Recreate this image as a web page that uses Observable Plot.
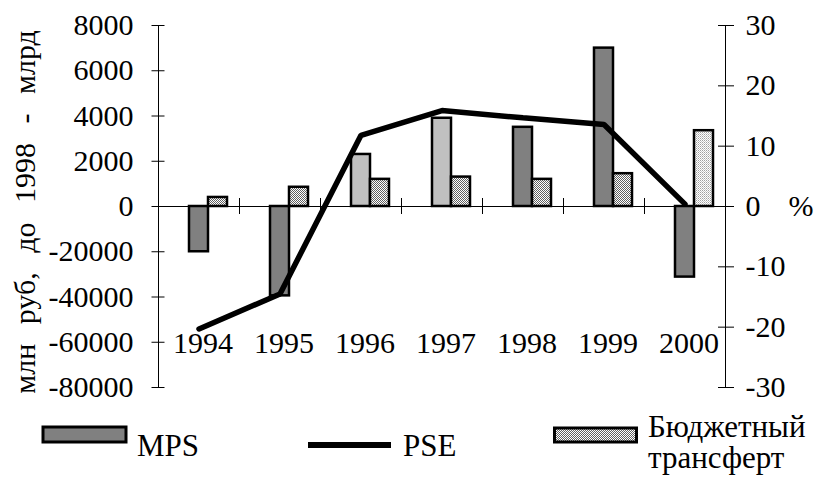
<!DOCTYPE html>
<html>
<head>
<meta charset="utf-8">
<script src="https://cdn.jsdelivr.net/npm/d3@7"></script>
<script src="https://cdn.jsdelivr.net/npm/@observablehq/plot@0.6"></script>
<style>
  html, body { margin: 0; padding: 0; background: #fff; }
  #chart { position: relative; width: 815px; height: 477px; overflow: hidden; }
  #chart svg { display: block; }
  #chart svg text { font-family: "Liberation Serif", "DejaVu Serif", "Times New Roman", Times, serif; }
</style>
</head>
<body>
<div id="chart"></div>
<script>
// ---- data ----
const years = ["1994", "1995", "1996", "1997", "1998", "1999", "2000"];
const mps = [-20000, -39500, 2300, 3900, 3500, 7000, -31200];      // left axis units
const transfer = [400, 850, 1200, 1300, 1200, 1450, 3350];          // left axis units
const pse = [-20.3, -14.5, 11.8, 15.9, 14.7, 13.6, 0.4];            // %, right axis
const leftTicks = [-80000, -60000, -40000, -20000, 0, 2000, 4000, 6000, 8000];
const rightTicks = [-30, -20, -10, 0, 10, 20, 30];
const yTitle = "млн руб, до 1998 - млрд";
const legendLabels = ["MPS", "PSE", "Бюджетный", "трансферт"];
const lightYears = ["1996", "1997"];
const lightTransferYears = ["2000"];

// ---- scale helpers ----
const toY = v => (v < 0 ? v / 10 : v);       // left axis: negative side is compressed 10x
const K = 8000 / 30;                          // percent -> left units

const W = 815, H = 405, ML = 158, MR = 90, MT = 25, MB = 18;
const bw = (W - ML - MR) / years.length;

const table = years.map((year, i) => ({year, mps: mps[i], transfer: transfer[i], pse: pse[i]}));

const font = "Liberation Serif, DejaVu Serif, Times New Roman, Times, serif";

const svg = Plot.plot({
  width: W,
  height: H,
  marginLeft: ML,
  marginRight: MR,
  marginTop: MT,
  marginBottom: MB,
  style: {fontFamily: font, fontSize: "30px", color: "black", background: "white"},
  x: {type: "band", domain: years, padding: 0, axis: null},
  y: {domain: [-8000, 8000], axis: null},
  color: {type: "identity"},
  marks: [
    Plot.barY(table, {
      x: "year", y1: 0, y2: d => toY(d.mps),
      fill: d => lightYears.includes(d.year) ? "#c0c0c0" : "#808080",
      stroke: "black", strokeWidth: 2.5,
      insetLeft: 31, insetRight: 31
    }),
    Plot.barY(table, {
      x: "year", y1: 0, y2: d => toY(d.transfer),
      fill: d => lightTransferYears.includes(d.year) ? "url(#patLight)" : "url(#patDark)",
      stroke: "black", strokeWidth: 2.5,
      insetLeft: 50, insetRight: 12
    }),
    Plot.ruleY([0], {stroke: "black", strokeWidth: 1}),
    Plot.ruleX(years.slice(1), {x: d => d, y1: 0, y2: 0, insetTop: -8, insetBottom: -8, dx: -bw / 2, stroke: "black", strokeWidth: 1}),
    Plot.frame({anchor: "left", stroke: "black", strokeWidth: 1}),
    Plot.frame({anchor: "right", stroke: "black", strokeWidth: 1}),
    Plot.axisY(leftTicks.map(toY), {
      anchor: "left", tickSize: 13, insetLeft: 6.5, tickPadding: 18.5,
      tickFormat: y => String(y < 0 ? Math.round(y * 10) : Math.round(y)),
      fontSize: 30, stroke: "black", fill: "black"
    }),
    Plot.axisY(rightTicks.map(p => p * K), {
      anchor: "right", tickSize: 16, insetRight: 8, tickPadding: 12,
      tickFormat: y => String(Math.round(y / K)),
      fontSize: 30, stroke: "black", fill: "black"
    }),
    Plot.text(["%"], {y: [0], text: d => d, frameAnchor: "right", textAnchor: "start", dx: 63, fontSize: 30, fill: "black"}),
    Plot.line(table, {x: "year", y: d => d.pse * K, stroke: "black", strokeWidth: 5.5, strokeLinejoin: "miter"}),
    Plot.text(years, {x: d => d, text: d => d, frameAnchor: "bottom", dy: -35, dx: 4, fontSize: 30, fill: "black"}),
    Plot.text([yTitle], {text: d => d, frameAnchor: "left", textAnchor: "middle", rotate: -90, dx: -133, dy: 5.5, fontSize: 30, fill: "black"})
  ]
});

// patterns for the dotted bars
const defs = d3.select(svg).insert("defs", ":first-child");
const p1 = defs.append("pattern").attr("id", "patDark").attr("width", 2).attr("height", 2).attr("patternUnits", "userSpaceOnUse");
p1.append("rect").attr("width", 2).attr("height", 2).attr("fill", "#ffffff");
p1.append("rect").attr("x", 0).attr("y", 0).attr("width", 1).attr("height", 1).attr("fill", "#606060");
p1.append("rect").attr("x", 1).attr("y", 1).attr("width", 1).attr("height", 1).attr("fill", "#606060");
const p2 = defs.append("pattern").attr("id", "patLight").attr("width", 2).attr("height", 2).attr("patternUnits", "userSpaceOnUse");
p2.append("rect").attr("width", 2).attr("height", 2).attr("fill", "#ffffff");
p2.append("rect").attr("x", 0).attr("y", 0).attr("width", 1).attr("height", 1).attr("fill", "#a0a0a0");
p2.append("rect").attr("x", 1).attr("y", 1).attr("width", 1).attr("height", 1).attr("fill", "#c8c8c8");

d3.select(svg).selectAll("text").filter(function() { return this.textContent === yTitle; })
  .style("word-spacing", "12px");

document.getElementById("chart").appendChild(svg);

// ---- legend (below the plot) ----
const leg = d3.select("#chart").append("svg")
  .attr("width", W).attr("height", 477 - H)
  .style("font-size", "31px");
const ldefs = leg.append("defs");
const lp = ldefs.append("pattern").attr("id", "legPat").attr("width", 2).attr("height", 2).attr("patternUnits", "userSpaceOnUse");
lp.append("rect").attr("width", 2).attr("height", 2).attr("fill", "#ffffff");
lp.append("rect").attr("width", 1).attr("height", 1).attr("fill", "#606060");
lp.append("rect").attr("x", 1).attr("y", 1).attr("width", 1).attr("height", 1).attr("fill", "#606060");

const oy = H;
leg.append("rect").attr("x", 43).attr("y", 427 - oy).attr("width", 83).attr("height", 15)
  .attr("fill", "#808080").attr("stroke", "black").attr("stroke-width", 3);
leg.append("text").attr("x", 137).attr("y", 455.5 - oy).text(legendLabels[0]);
leg.append("line").attr("x1", 308).attr("x2", 391).attr("y1", 445 - oy).attr("y2", 445 - oy)
  .attr("stroke", "black").attr("stroke-width", 6);
leg.append("text").attr("x", 403).attr("y", 455.5 - oy).text(legendLabels[1]);
leg.append("rect").attr("x", 554.5).attr("y", 428 - oy).attr("width", 82).attr("height", 14)
  .attr("fill", "url(#legPat)").attr("stroke", "black").attr("stroke-width", 3);
leg.append("text").attr("x", 648).attr("y", 436.5 - oy).text(legendLabels[2]);
leg.append("text").attr("x", 648).attr("y", 468 - oy).text(legendLabels[3]);
</script>
</body>
</html>
